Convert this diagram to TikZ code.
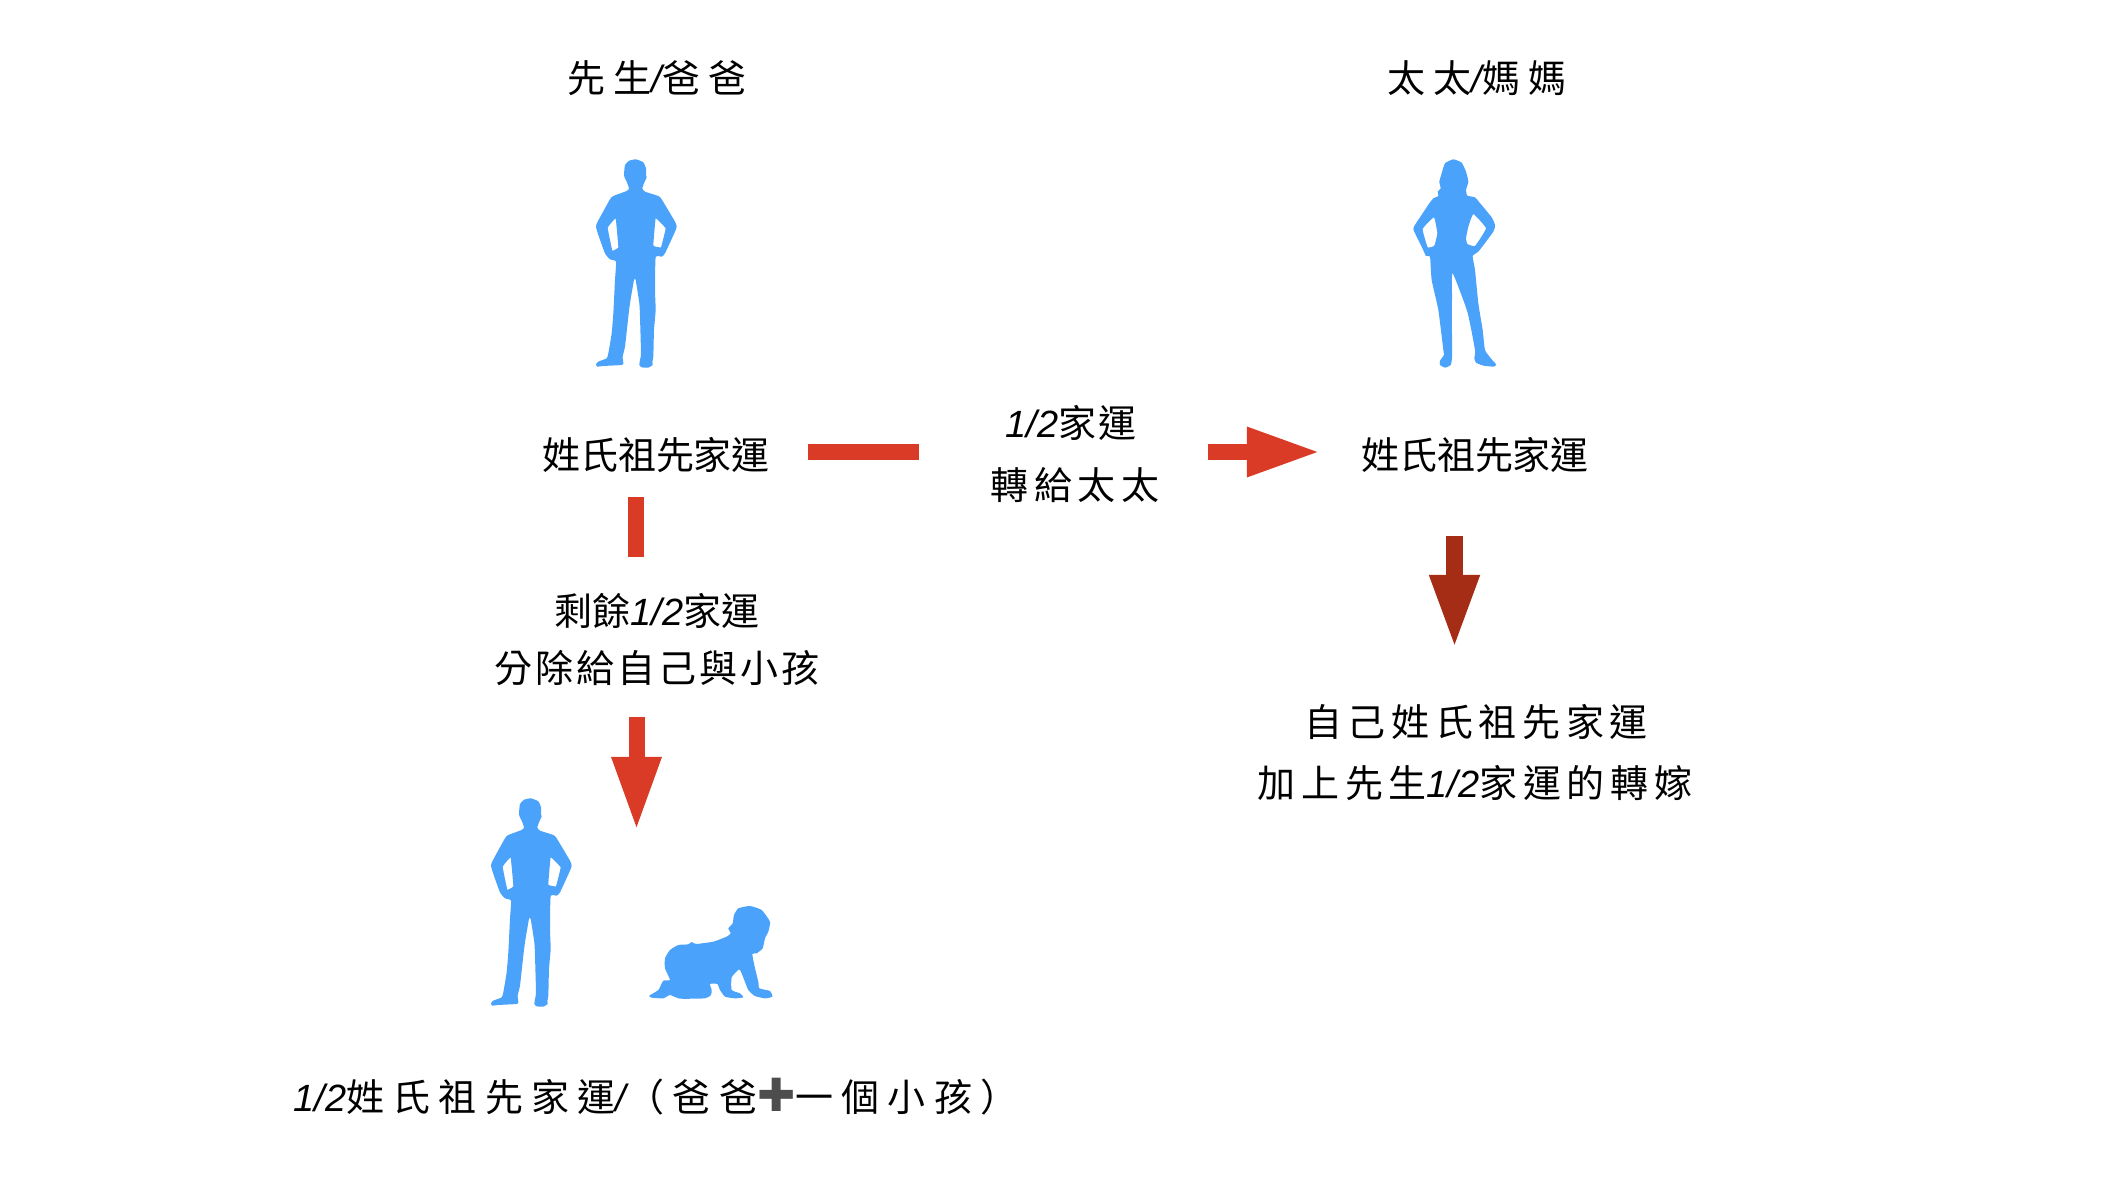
\documentclass[tikz,border=0pt]{standalone}
\usepackage{fontspec}
\usepackage{xcolor}
\usetikzlibrary{arrows.meta}
\newfontfamily\cjkplain{Noto Sans CJK TC}
\newfontfamily\cjktight[LetterSpace=5]{Noto Sans CJK TC}
\newfontfamily\cjkmid[LetterSpace=8]{Noto Sans CJK TC}
\newfontfamily\cjkwide[LetterSpace=15]{Noto Sans CJK TC}
\newfontfamily\cjkbroad[LetterSpace=22]{Noto Sans CJK TC}
\newfontfamily\latinit{Liberation Sans}
\newfontfamily\symbolfont{DejaVu Sans}
\newcommand{\half}{{\latinit\itshape 1/2}}
\newcommand{\slashsign}{{\latinit\itshape /}}
\definecolor{figblue}{HTML}{4AA2FB}
\definecolor{arrowred}{HTML}{DA3B26}
\definecolor{arrowdark}{HTML}{A52C15}
\tikzset{
    labplain/.style={inner sep=0, font=\fontsize{10.8}{13}\selectfont\cjkplain},
    labtight/.style={inner sep=0, font=\fontsize{10.8}{13}\selectfont\cjktight},
    labmid/.style={inner sep=0, font=\fontsize{10.8}{13}\selectfont\cjkmid},
    labwide/.style={inner sep=0, font=\fontsize{10.8}{13}\selectfont\cjkwide},
    labbroad/.style={inner sep=0, font=\fontsize{10.8}{13}\selectfont\cjkbroad},
    redbar/.style={draw=arrowred, line width=0.16cm},
    redarrow/.style={redbar, -{Triangle[length=0.74cm, width=0.455cm]}},
    darkarrow/.style={draw=arrowdark, line width=0.17cm, -{Triangle[length=0.74cm, width=0.455cm]}},
    man/.pic={
        \fill[figblue, even odd rule]
            plot[smooth cycle, tension=0.3] coordinates {(228,88) (250,97) (258,115) (258,135) (260,142) (252,160) (247,175) (255,185) (295,198) (305,208) (345,275) (350,290) (345,305) (315,370) (305,380) (287,382) (285,480) (287,540) (282,600) (280,680) (277,695) (278,705) (265,713) (245,712) (238,705) (240,690) (243,670) (240,560) (238,520) (227,450) (222,450) (210,520) (205,560) (195,650) (188,680) (190,700) (185,705) (130,708) (112,710) (108,703) (115,695) (140,685) (145,670) (155,610) (160,550) (165,450) (168,395) (150,388) (135,370) (115,315) (108,290) (113,275) (150,208) (160,198) (200,183) (207,175) (200,155) (195,145) (192,135) (195,105) (208,92)}
            plot[smooth cycle, tension=0.1] coordinates {(167,265) (143,293) (157,362) (175,352)}
            plot[smooth cycle, tension=0.1] coordinates {(287,265) (317,295) (303,352) (280,347)};
    },
    woman/.pic={
        \fill[figblue, even odd rule]
            plot[smooth cycle, tension=0.3] coordinates {(190,88) (215,98) (228,125) (235,155) (228,180) (232,197) (255,202) (268,217) (305,262) (315,285) (310,305) (265,365) (248,378) (255,420) (265,520) (278,600) (285,660) (305,688) (318,703) (312,710) (280,707) (258,698) (253,685) (255,660) (232,545) (188,430) (186,500) (186,660) (186,685) (182,705) (165,713) (150,705) (150,692) (162,675) (160,660) (145,540) (125,450) (120,380) (108,378) (95,350) (70,298) (78,280) (118,220) (130,205) (145,198) (143,185) (152,175) (148,155) (155,130) (165,100)}
            plot[smooth cycle, tension=0.2] coordinates {(132,262) (98,297) (113,352) (133,347) (142,310)}
            plot[smooth cycle, tension=0.2] coordinates {(250,252) (235,290) (228,325) (232,342) (255,348) (288,295)};
    },
    baby/.pic={
        \fill[figblue]
            plot[smooth cycle, tension=0.3] coordinates {(330,48) (365,60) (390,95) (385,125) (375,145) (368,175) (350,190) (337,192) (345,235) (355,275) (358,295) (390,303) (397,320) (375,325) (345,318) (325,300) (305,250) (297,238) (275,262) (275,300) (300,310) (310,322) (285,325) (255,320) (240,300) (232,282) (210,282) (215,300) (213,315) (195,325) (120,326) (90,315) (70,325) (35,323) (28,317) (55,300) (70,272) (90,270) (75,235) (75,205) (90,180) (115,165) (145,163) (155,156) (168,162) (220,155) (260,140) (272,130) (265,115) (278,100) (282,75) (295,55)};
    }
}

\begin{document}
\begin{tikzpicture}[x=0.01cm, y=-0.01cm]
\useasboundingbox (0,0) rectangle (2106,1182);

% Titles
\node[labbroad] (husband) at (657,78) {先生\slashsign 爸爸};
\node[labbroad] (wife) at (1477,78) {太太\slashsign 媽媽};

% Figures
\pic[scale=0.3333] at (560,130) {man};
\pic[scale=0.3333] at (1390,130) {woman};
\pic[scale=0.3333] at (455,769) {man};
\pic[scale=0.3333] at (640,890) {baby};

% Left column
\node[labplain] (luckH) at (656,455) {姓氏祖先家運};
\node[labplain] (rest) at (657,611) {剩餘\half 家運};
\node[labmid] (share) at (657,668) {分除給自己與小孩};
\node[labbroad] (sum) at (656,1097) {\half 姓氏祖先家運\slashsign （爸爸{\symbolfont\color[HTML]{4D4D4D}\fontsize{13}{13}\selectfont ✚}一個小孩）};

% Middle
\node[labtight] (halfluck) at (1071,423) {\half 家運};
\node[labwide] (transfer) at (1075,485) {轉給太太};

% Right column
\node[labplain] (luckW) at (1475,455) {姓氏祖先家運};
\node[labwide] (own) at (1476,722) {自己姓氏祖先家運};
\node[labwide] (plus) at (1475,783) {加上先生\half 家運的轉嫁};

% Connector ends
\coordinate (acrossA) at (808,452);
\coordinate (acrossB) at (919,452);
\coordinate (acrossC) at (1208,452);
\coordinate (acrossD) at (1321,452);
\coordinate (downA) at (636,497);
\coordinate (downB) at (636,557);
\coordinate (downC) at (636.5,717);
\coordinate (downD) at (636.5,831);
\coordinate (rightA) at (1454.5,536);
\coordinate (rightB) at (1454.5,649);

% Connectors
\draw[redbar] (acrossA) -- (acrossB);
\draw[redarrow] (acrossC) -- (acrossD);
\draw[redbar] (downA) -- (downB);
\draw[redarrow] (downC) -- (downD);
\draw[darkarrow] (rightA) -- (rightB);

\end{tikzpicture}
\end{document}
